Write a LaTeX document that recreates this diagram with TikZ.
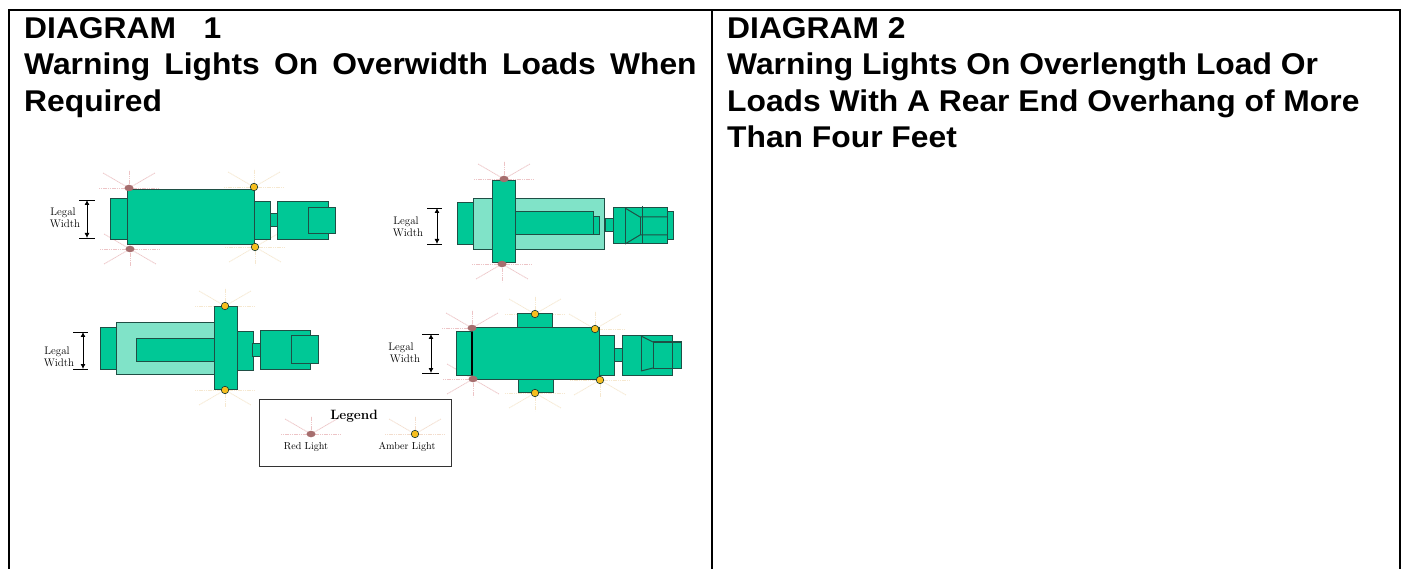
\documentclass[tikz,border=0pt]{standalone}
\usepackage{fontspec}
\newfontfamily\headfont[FakeStretch=1.06,BoldFeatures={FakeStretch=1.06}]{Liberation Sans}
\usetikzlibrary{arrows.meta,shapes.geometric}
\definecolor{teal1}{HTML}{00C896}
\definecolor{teal2}{HTML}{80E3C8}
\definecolor{edge}{HTML}{1F4F45}
\definecolor{redl}{HTML}{A66E6E}
\definecolor{ambl}{HTML}{F6BE1E}
\definecolor{rayr}{HTML}{EDC4C6}
\definecolor{raya}{HTML}{F6E8D0}
\tikzset{
  box/.style={draw=edge,line width=1pt,fill=teal1},
  pale/.style={draw=edge,line width=1pt,fill=teal2},
  open/.style={draw=edge,line width=1pt},
  frameline/.style={draw=black,line width=2pt},
  head/.style={font=\headfont\bfseries\fontsize{30}{36.5}\selectfont,anchor=north west,align=left,inner sep=0pt},
  small/.style={font=\fontsize{11}{11}\selectfont,inner sep=0pt},
  legendtext/.style={font=\fontsize{10.1}{11}\selectfont,inner sep=0pt},
  redlight/.style={ellipse,fill=redl,minimum width=9pt,minimum height=6.5pt,inner sep=0pt},
  amberlight/.style={circle,draw=edge!70!black,line width=0.6pt,fill=ambl,minimum size=7.5pt,inner sep=0pt},
  dimline/.style={draw=black,line width=0.8pt},
  dimarrow/.style={draw=black,line width=0.8pt,{Latex[length=5pt,width=5pt]}-{Latex[length=5pt,width=5pt]}},
}
\newcommand{\lightrays}[3]{%
  \foreach \ang in {#3}{%
    \pgfmathsetmacro{\raylen}{abs(sin(\ang))>0.9?18:30}%
    \draw[#2,line width=0.8pt,dash pattern=on 1.2pt off 0.6pt] (#1) -- ++(\ang:\raylen pt);
  }%
}
\newcommand{\wsp}{\ \hspace{5.4pt}}
\begin{document}
\begin{tikzpicture}[x=1pt,y=-1pt]
\useasboundingbox (0,0) rectangle (1403,569);
\fill[white] (0,0) rectangle (1403,569);
% frame
\draw[frameline] (9,569) -- (9,10) -- (1400,10) -- (1400,569);
\draw[frameline] (712,10) -- (712,569);
% headings
\node[head] (h1) at (24,17) {DIAGRAM\hspace{0.62em} 1\\Warning\wsp Lights\wsp On\wsp Overwidth\wsp Loads\wsp When\\Required};
\node[head] (h2) at (727,17) {DIAGRAM 2\\Warning Lights On Overlength Load Or\\Loads With A Rear End Overhang of More\\Than Four Feet};

% light positions
\coordinate (a1) at (129,188); \coordinate (a2) at (130,249);
\coordinate (a3) at (254,187); \coordinate (a4) at (255,247);
\coordinate (b1) at (504,179); \coordinate (b2) at (502,264);
\coordinate (c1) at (225,306); \coordinate (c2) at (225,390);
\coordinate (d1) at (472,328); \coordinate (d2) at (473,379);
\coordinate (d3) at (595,329); \coordinate (d4) at (600,380);
\coordinate (d5) at (535,314); \coordinate (d6) at (535,393);
\coordinate (e1) at (311,434); \coordinate (e2) at (415,434);
% rays
\lightrays{a1}{rayr}{0,30,90,150,180}
\lightrays{a2}{rayr}{0,-30,-90,-150,180,150}
\lightrays{a3}{raya}{0,30,90,150,180}
\lightrays{a4}{raya}{0,-30,-90,-150,180,30}
\lightrays{b1}{rayr}{0,30,90,150,180}
\lightrays{b2}{rayr}{0,-30,-90,-150,180}
\lightrays{c1}{raya}{0,30,90,150,180}
\lightrays{c2}{raya}{0,-30,-90,-150,180}
\lightrays{d1}{rayr}{0,30,90,150,180}
\lightrays{d2}{rayr}{0,-30,-90,-150,180,150}
\lightrays{d3}{raya}{0,30,90,150,180}
\lightrays{d4}{raya}{0,-30,-90,-150,180}
\lightrays{d5}{raya}{0,30,90,150,180}
\lightrays{d6}{raya}{0,-30,-90,-150,180}

% truck A
\path[box] (110,199) rectangle (127,240);
\path[box] (127,190) rectangle (254,245);
\path[box] (254,202) rectangle (270,240);
\path[box] (270,214) rectangle (277,227);
\path[box] (277,202) rectangle (328,240);
\path[draw=none,fill=teal1] (328,208) rectangle (335,234);
\path[open] (308,208) rectangle (335,234);

% truck B
\path[box] (457,203) rectangle (473,245);
\path[pale] (473,199) rectangle (604,250);
\path[box] (515,212) rectangle (593,235);
\path[box] (593,217) rectangle (599,235);
\path[box] (492,181) rectangle (515,263);
\path[box] (605,219) rectangle (613,232);
\path[box] (667,212) rectangle (673,240);
\path[box] (613,208) rectangle (667,244);
\path[open] (625,208) -- (625,244);
\path[open] (642,206) -- (642,244);
\path[open] (625,208) -- (640,217) -- (667,217);
\path[open] (625,244) -- (640,235) -- (667,235);
\path[open] (640,217) -- (640,235);

% truck C
\path[box] (100,328) rectangle (116,369);
\path[pale] (116,323) rectangle (214,374);
\path[box] (136,339) rectangle (214,361);
\path[box] (214,307) rectangle (237,389);
\path[box] (237,332) rectangle (253,370);
\path[box] (252,343) rectangle (260,356);
\path[box] (260,331) rectangle (310,369);
\path[box] (291,336) rectangle (318,363);

% truck D
\path[box] (456,332) rectangle (472,375);
\path[box] (517,314) rectangle (552,328);
\path[box] (518,379) rectangle (553,392);
\path[box] (472,328) rectangle (599,379);
\path[box] (599,336) rectangle (614,375);
\path[box] (614,348) rectangle (622,361);
\path[box] (622,336) rectangle (672,375);
\path[box] (653,342) rectangle (681,368);
\path[open] (672,342) -- (672,368);
\path[open] (641,336) -- (641,371);
\path[open] (641,336) -- (653,342);
\path[open] (641,371) -- (653,368);
\path[draw=black,line width=1.2pt] (472,332) -- (472,375);

% legal width dimensions
\coordinate (p1a) at (79,200); \coordinate (p1b) at (95,200);
\coordinate (p1c) at (79,238); \coordinate (p1d) at (95,238);
\coordinate (p1e) at (87,200); \coordinate (p1f) at (87,238);
\draw[dimline] (p1a) -- (p1b); \draw[dimline] (p1c) -- (p1d);
\draw[dimarrow] (p1e) -- (p1f);
\node[small] (t1a) at (63,213) {Legal};
\node[small] (t1b) at (65,224) {Width};

\coordinate (p2a) at (427,208); \coordinate (p2b) at (442,208);
\coordinate (p2c) at (427,244); \coordinate (p2d) at (442,244);
\coordinate (p2e) at (437,208); \coordinate (p2f) at (437,244);
\draw[dimline] (p2a) -- (p2b); \draw[dimline] (p2c) -- (p2d);
\draw[dimarrow] (p2e) -- (p2f);
\node[small] (t2a) at (406,222) {Legal};
\node[small] (t2b) at (408,233) {Width};

\coordinate (p3a) at (73,332); \coordinate (p3b) at (88,332);
\coordinate (p3c) at (73,369); \coordinate (p3d) at (88,369);
\coordinate (p3e) at (83,332); \coordinate (p3f) at (83,369);
\draw[dimline] (p3a) -- (p3b); \draw[dimline] (p3c) -- (p3d);
\draw[dimarrow] (p3e) -- (p3f);
\node[small] (t3a) at (57,352) {Legal};
\node[small] (t3b) at (59,363) {Width};

\coordinate (p4a) at (422,334); \coordinate (p4b) at (439,334);
\coordinate (p4c) at (422,373); \coordinate (p4d) at (439,373);
\coordinate (p4e) at (431,334); \coordinate (p4f) at (431,373);
\draw[dimline] (p4a) -- (p4b); \draw[dimline] (p4c) -- (p4d);
\draw[dimarrow] (p4e) -- (p4f);
\node[small] (t4a) at (401,348) {Legal};
\node[small] (t4b) at (405,359) {Width};

% legend
\path[draw=black!80,line width=0.9pt,fill=white] (259,399) rectangle (451,466);
\lightrays{e1}{rayr}{0,30,90,150,180}
\lightrays{e2}{raya!70!rayr}{0,30,90,150,180}
\node[small,font=\bfseries\fontsize{13.5}{14}\selectfont] (lg) at (354,416) {Legend};
\node[legendtext] (lr) at (306,447) {Red Light};
\node[legendtext] (la) at (407,447) {Amber Light};

% lights on top
\foreach \n in {a1,a2,b1,b2,d1,d2,e1} \node[redlight] (L\n) at (\n) {};
\foreach \n in {a3,a4,c1,c2,d3,d4,d5,d6,e2} \node[amberlight] (L\n) at (\n) {};
\end{tikzpicture}
\end{document}
